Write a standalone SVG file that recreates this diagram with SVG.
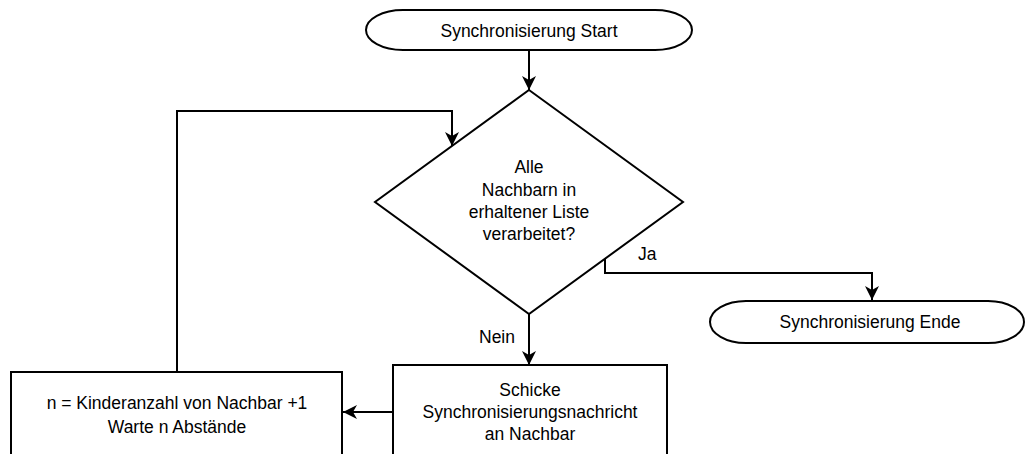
<svg xmlns="http://www.w3.org/2000/svg" width="1027" height="454" viewBox="0 0 1027 454">
  <style>
    .shape { fill: #ffffff; stroke: #000000; stroke-width: 2; }
    .edge { fill: none; stroke: #000000; stroke-width: 2; }
    text { font-family: "Liberation Sans", Arial, sans-serif; font-size: 17.5px; fill: #000000; }
    .c { text-anchor: middle; }
  </style>
  <defs>
    <marker id="arrow" markerUnits="userSpaceOnUse" markerWidth="14" markerHeight="14" refX="14" refY="7" orient="auto">
      <path d="M0,0 L14,7 L0,14 L4,7 Z" fill="#000000"/>
    </marker>
  </defs>

  <g id="connectors">
    <!-- start -> decision -->
    <path class="edge" d="M529,50 L529,90" marker-end="url(#arrow)"/>
    <!-- decision -> end (Ja) -->
    <path class="edge" d="M605,259 L605,273 L872,273 L872,300" marker-end="url(#arrow)"/>
    <text x="638" y="260">Ja</text>
    <!-- decision -> send (Nein) -->
    <path class="edge" d="M529,314 L529,365" marker-end="url(#arrow)"/>
    <text x="479" y="343">Nein</text>
    <!-- send -> wait -->
    <path class="edge" d="M393,412 L343,412" marker-end="url(#arrow)"/>
    <!-- wait -> decision (loop back) -->
    <path class="edge" d="M177,372 L177,111 L452,111 L452,146" marker-end="url(#arrow)"/>
  </g>

  <g id="start">
    <path class="shape" d="M403,10 L655,10 A37,20 0 0 1 655,50 L403,50 A37,20 0 0 1 403,10 Z"/>
    <text class="c" x="529" y="37">Synchronisierung Start</text>
  </g>

  <g id="decision">
    <path class="shape" d="M529,90 L683,202 L529,314 L375,202 Z"/>
    <text class="c" x="529" y="173">Alle</text>
    <text class="c" x="529" y="196">Nachbarn in</text>
    <text class="c" x="529" y="218">erhaltener Liste</text>
    <text class="c" x="529" y="240">verarbeitet?</text>
  </g>

  <g id="end">
    <path class="shape" d="M746,301 L988,301 A36,21 0 0 1 988,343 L746,343 A36,21 0 0 1 746,301 Z"/>
    <text class="c" x="870" y="328">Synchronisierung Ende</text>
  </g>

  <g id="send">
    <rect class="shape" x="393" y="365" width="274" height="100"/>
    <text class="c" x="530" y="396">Schicke</text>
    <text class="c" x="530" y="418">Synchronisierungsnachricht</text>
    <text class="c" x="530" y="440">an Nachbar</text>
  </g>

  <g id="wait">
    <rect class="shape" x="11" y="372" width="331" height="100"/>
    <text class="c" x="177" y="409">n = Kinderanzahl von Nachbar +1</text>
    <text class="c" x="177" y="433">Warte n Abstände</text>
  </g>
</svg>
